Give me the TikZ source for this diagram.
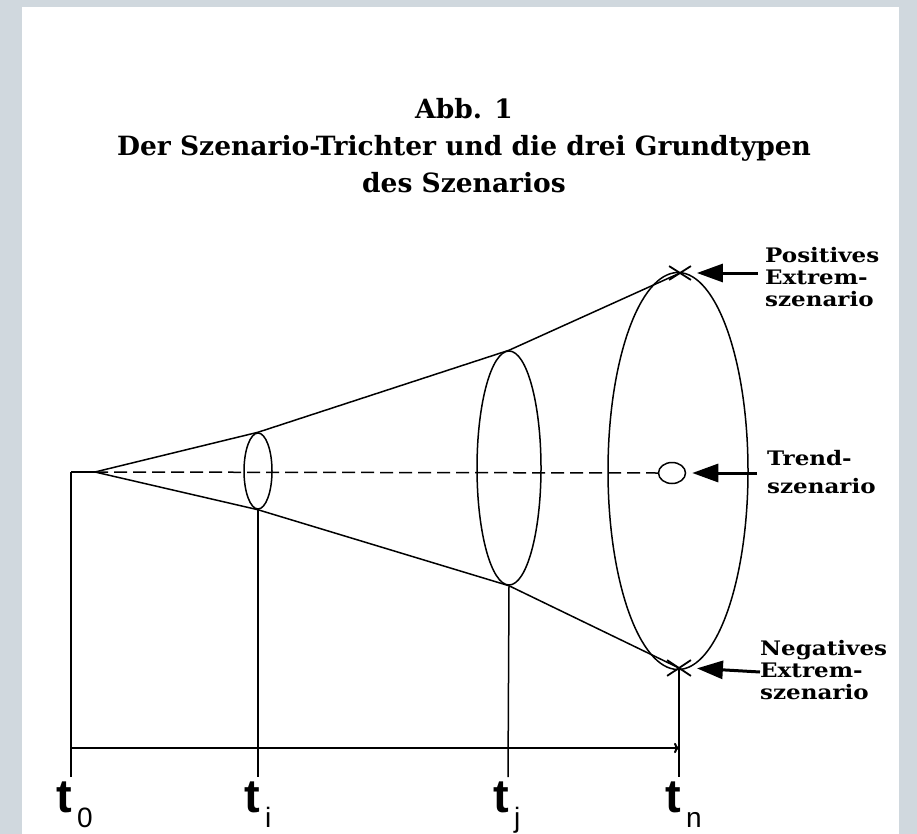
\documentclass[tikz,border=0pt]{standalone}
\usepackage{fontspec}
\setmainfont{DejaVu Serif}
\newfontfamily\tagfont[FakeStretch=1.15]{DejaVu Serif}
\newfontfamily\axisfont{Liberation Sans}
\usetikzlibrary{arrows.meta,shapes.geometric,shapes.misc}
\definecolor{framegray}{RGB}{208,216,222}

\tikzset{
  funnel/.style={line width=1.5pt},
  cut/.style={draw, ellipse, line width=1.5pt, inner sep=0pt},
  xmark/.style={draw, cross out, line width=1.8pt, inner sep=0pt},
  pointer/.style={line width=3pt, shorten >=6pt, -{Triangle[length=26pt,width=18pt]}},
  tag/.style={font=\tagfont\fontsize{20}{22}\selectfont\bfseries, align=left, anchor=north west, inner sep=0pt},
  tlabel/.style={font=\axisfont\fontsize{47}{47}\selectfont\bfseries, inner sep=0pt, anchor=base east},
  tsub/.style={font=\axisfont\fontsize{28}{28}\selectfont, inner sep=0pt, anchor=base west},
}

\begin{document}
\begin{tikzpicture}[x=1pt, y=-1pt]
    % Frame
    \fill[framegray] (0,0) rectangle (917,834);
    \fill[white] (22,7) rectangle (899,834);
    \useasboundingbox (0,0) rectangle (917,834);

    % Title
    \node[font=\fontsize{26.5}{37}\selectfont\bfseries, align=center, anchor=north, inner sep=0pt] (title) at (464,98)
        {Abb. 1\\Der Szenario-Trichter und die drei Grundtypen\\des Szenarios};

    % Cross sections of the funnel
    \node[cut, minimum width=28pt, minimum height=76pt] (ci) at (258,471) {};
    \node[cut, minimum width=64pt, minimum height=234pt] (cj) at (509,468) {};
    \node[cut, minimum width=140pt, minimum height=397pt] (cn) at (678,471) {};

    % Scenario marks
    \node[xmark, minimum width=20pt, minimum height=12pt] (posx) at (680,273) {};
    \node[xmark, minimum width=22pt, minimum height=14pt] (negx) at (679,668) {};
    \node[cut, minimum width=27pt, minimum height=21pt] (trend) at (672,473) {};

    % Funnel
    \coordinate (apex) at (95,472);
    \coordinate (t0top) at (71,472);
    \draw[funnel] (apex) -- (ci.north) -- (cj.north) -- (posx.center);
    \draw[funnel] (apex) -- (ci.south) -- (cj.south) -- (negx.center);
    \draw[funnel, dash pattern=on 13pt off 6pt] (apex) -- (trend.west);
    \draw[funnel] (t0top) -- (apex);

    % Time axis
    \coordinate (t0) at (71,777);
    \coordinate (ti) at (258,777);
    \coordinate (tj) at (508,777);
    \coordinate (tn) at (679,777);
    \coordinate (a0) at (71,748);
    \coordinate (an) at (679,748);
    \draw[funnel] (t0top) -- (t0);
    \draw[funnel] (ci.south) -- (ti);
    \draw[funnel] (cj.south) -- (tj);
    \draw[funnel] (negx.center) -- (tn);
    \draw[line width=2pt, -{To[length=5pt]}] (a0) -- (an);

    % Time labels
    \node[tlabel] (lt0) at (72,812) {t};
    \node[tsub] (lt0s) at (77,827) {0};
    \node[tlabel] (lti) at (260,812) {t};
    \node[tsub] (ltis) at (265,827) {i};
    \node[tlabel] (ltj) at (509,812) {t};
    \node[tsub] (ltjs) at (514,827) {j};
    \node[tlabel] (ltn) at (681,812) {t};
    \node[tsub] (ltns) at (686,827) {n};

    % Scenario labels
    \node[tag] (lpos) at (765,247) {Positives\\Extrem-\\szenario};
    \node[tag, font=\tagfont\fontsize{20}{28}\selectfont\bfseries] (ltrend) at (767,450) {Trend-\\szenario};
    \node[tag] (lneg) at (760,640) {Negatives\\Extrem-\\szenario};

    % Pointers
    \coordinate (postail) at (758,273);
    \coordinate (trendtail) at (757,473);
    \coordinate (negtail) at (760,672);
    \draw[pointer] (postail) -- (posx.east);
    \draw[pointer] (trendtail) -- (trend.east);
    \draw[pointer] (negtail) -- (negx.east);
\end{tikzpicture}
\end{document}
